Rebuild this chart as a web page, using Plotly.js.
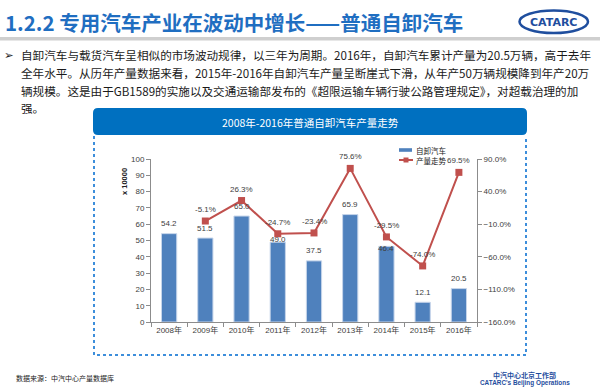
<!DOCTYPE html>
<html>
<head>
<meta charset="utf-8">
<script src="https://cdn.plot.ly/plotly-3.0.1.min.js"></script>
<style>
html,body{margin:0;padding:0;background:#ffffff;}
#chart{width:600px;height:389px;}
</style>
</head>
<body>
<div id="chart"></div>
<script>
// ---- data ----
var years = ['2008年','2009年','2010年','2011年','2012年','2013年','2014年','2015年','2016年'];
var production = [54.2, 51.5, 65.0, 49.0, 37.5, 65.9, 46.4, 12.1, 20.5];
var growthYears = ['2009年','2010年','2011年','2012年','2013年','2014年','2015年','2016年'];
var growth = [-5.1, 26.3, -24.7, -23.4, 75.6, -29.5, -74.0, 69.5];
var seriesNames = ['自卸汽车', '产量走势'];
var pageTitle = '1.2.2 专用汽车产业在波动中增长——普通自卸汽车';
var bodyLines = [
  '自卸汽车与载货汽车呈相似的市场波动规律，以三年为周期。2016年，自卸汽车累计产量为20.5万辆，高于去年',
  '全年水平。从历年产量数据来看，2015年-2016年自卸汽车产量呈断崖式下滑，从年产50万辆规模降到年产20万',
  '辆规模。这是由于GB1589的实施以及交通运输部发布的《超限运输车辆行驶公路管理规定》，对超载治理的加',
  '强。'
];
var chartTitle = '2008年-2016年普通自卸汽车产量走势';
var yTitle = 'x 10000';
var sourceText = '数据来源：中汽中心产量数据库';
var footer1 = '中汽中心北京工作部';
var footer2 = "CATARC's Beijing Operations";

// ---- style / geometry ----
var W = 600, H = 389;
var L = 151, R = 477, T = 159, B = 322;
function px(x){ return (x - L) / (R - L); }
function py(y){ return (B - y) / (B - T); }
var barLabelShift = [10, 10, 10, 3, 10, 10, -2, 10, 10];
var fontLatin = 'Liberation Sans, Arial, Noto Sans CJK SC, sans-serif';
var fontCJK = 'Noto Sans CJK SC, Liberation Sans, sans-serif';
var txtGray = '#404040';
var barColor = '#4F81BD';
var lineColor = '#C0504D';

function roundRectPath(x0, y0, x1, y1, r){
  var rx = r / (R - L), ry = r / (B - T);
  var X0 = px(x0), X1 = px(x1), Y0 = py(y0), Y1 = py(y1);
  return 'M ' + (X0 + rx) + ' ' + Y0 +
    ' L ' + (X1 - rx) + ' ' + Y0 +
    ' Q ' + X1 + ' ' + Y0 + ' ' + X1 + ' ' + (Y0 - ry) +
    ' L ' + X1 + ' ' + (Y1 + ry) +
    ' Q ' + X1 + ' ' + Y1 + ' ' + (X1 - rx) + ' ' + Y1 +
    ' L ' + (X0 + rx) + ' ' + Y1 +
    ' Q ' + X0 + ' ' + Y1 + ' ' + X0 + ' ' + (Y1 + ry) +
    ' L ' + X0 + ' ' + (Y0 - ry) +
    ' Q ' + X0 + ' ' + Y0 + ' ' + (X0 + rx) + ' ' + Y0 + ' Z';
}

var traces = [
  {
    type: 'bar', x: years, y: production, name: seriesNames[0],
    marker: {color: barColor, line: {color: '#c6d5ea', width: 1}},
    width: 0.42, hoverinfo: 'skip', showlegend: false
  },
  {
    type: 'scatter', mode: 'lines+markers', x: growthYears, y: growth, yaxis: 'y2',
    name: seriesNames[1], line: {color: lineColor, width: 2},
    marker: {symbol: 'square', size: 7, color: lineColor},
    hoverinfo: 'skip', showlegend: false
  }
];

var annotations = [];
var shapes = [];

// page header
annotations.push({xref:'paper', yref:'paper', x: px(3), y: py(22), xanchor:'left', yanchor:'middle',
  text: '<b>' + pageTitle + '</b>', showarrow:false,
  font:{family: fontCJK, size: 20.5, color:'#1F6EC1'}});
shapes.push({type:'rect', xref:'paper', yref:'paper', x0:px(0), x1:px(600), y0:py(40.5), y1:py(37),
  fillcolor:'#cfcfcf', line:{width:0}, layer:'below'});
// logo
shapes.push({type:'circle', xref:'paper', yref:'paper', x0:px(519.5), x1:px(588), y0:py(33), y1:py(10.5),
  line:{color:'#1F4E9E', width:2.5}, fillcolor:'rgba(0,0,0,0)'});
annotations.push({xref:'paper', yref:'paper', x: px(553.5), y: py(22), xanchor:'center', yanchor:'middle',
  text:'<b>CATARC</b>', showarrow:false, font:{family:'DejaVu Sans, sans-serif', size:11, color:'#1F4E9E'}});

// bullet & body text
annotations.push({xref:'paper', yref:'paper', x: px(2), y: py(55.5), xanchor:'left', yanchor:'middle',
  text:'➢', showarrow:false, font:{family:'DejaVu Sans, sans-serif', size:11.5, color:'#222'}});
var bodyY = [55.5, 73.3, 90.8, 108.3];
for (var i = 0; i < bodyLines.length; i++) {
  annotations.push({xref:'paper', yref:'paper', x: px(19), y: py(bodyY[i]), xanchor:'left', yanchor:'middle',
    text: bodyLines[i], showarrow:false, font:{family: fontCJK, size: 11.6, color:'#1a1a1a'}});
}

// banner
shapes.push({type:'path', xref:'paper', yref:'paper', path: roundRectPath(93, 108, 527, 135, 5),
  fillcolor:'#0070C0', line:{width:0}});
annotations.push({xref:'paper', yref:'paper', x: px(310), y: py(122.5), xanchor:'center', yanchor:'middle',
  text: chartTitle, showarrow:false, font:{family: fontCJK, size: 10.5, color:'#ffffff'}});
// dotted frame
shapes.push({type:'path', xref:'paper', yref:'paper',
  path: 'M ' + px(94) + ' ' + py(136) + ' L ' + px(94) + ' ' + py(355) + ' L ' + px(526) + ' ' + py(355) + ' L ' + px(526) + ' ' + py(136),
  line:{color:'#3D8EDB', width:2, dash:'dot'}});

// y title
annotations.push({xref:'paper', yref:'paper', x: px(124), y: py(182), xanchor:'center', yanchor:'middle',
  text:'<b>' + yTitle + '</b>', textangle:-90, showarrow:false,
  font:{family: fontLatin, size: 7.5, color:'#222'}});

// bar labels
for (var j = 0; j < years.length; j++) {
  annotations.push({xref:'x', yref:'y', x: years[j], y: production[j], yanchor:'middle', xanchor:'center',
    yshift: barLabelShift[j], text: production[j].toFixed(1), showarrow:false,
    font:{family: fontLatin, size: 8, color: txtGray}});
}
// line labels
for (var k = 0; k < growthYears.length; k++) {
  annotations.push({xref:'x', yref:'y2', x: growthYears[k], y: growth[k], yanchor:'middle', xanchor:'center',
    yshift: 11.5, text: growth[k].toFixed(1) + '%', showarrow:false,
    font:{family: fontLatin, size: 8, color: txtGray}});
}

// manual legend
shapes.push({type:'rect', xref:'paper', yref:'paper', x0:px(399), x1:px(412), y0:py(151.8), y1:py(148.2),
  fillcolor: barColor, line:{width:0}});
shapes.push({type:'line', xref:'paper', yref:'paper', x0:px(399), x1:px(413), y0:py(160), y1:py(160),
  line:{color: lineColor, width:2}});
shapes.push({type:'rect', xref:'paper', yref:'paper', x0:px(403.5), x1:px(408.5), y0:py(162.5), y1:py(157.5),
  fillcolor: lineColor, line:{width:0}});
annotations.push({xref:'paper', yref:'paper', x: px(414), y: py(150), xanchor:'left', yanchor:'middle',
  text: seriesNames[0], showarrow:false, font:{family: fontCJK, size: 7.5, color:'#222'}});
annotations.push({xref:'paper', yref:'paper', x: px(414), y: py(160), xanchor:'left', yanchor:'middle',
  text: seriesNames[1], showarrow:false, font:{family: fontCJK, size: 7.5, color:'#222'}});

// footer
annotations.push({xref:'paper', yref:'paper', x: px(14), y: py(377.5), xanchor:'left', yanchor:'middle',
  text: sourceText, showarrow:false, font:{family: fontCJK, size: 7, color:'#222'}});
annotations.push({xref:'paper', yref:'paper', x: px(524.5), y: py(374.5), xanchor:'center', yanchor:'middle',
  text: '<b>' + footer1 + '</b>', showarrow:false, font:{family: fontCJK, size: 7, color:'#1F4E9E'}});
annotations.push({xref:'paper', yref:'paper', x: px(524.5), y: py(383.3), xanchor:'center', yanchor:'middle',
  text: '<b>' + footer2 + '</b>', showarrow:false, font:{family: fontLatin, size: 6.4, color:'#1F4E9E'}});

var axisColor = '#8c8c8c';
var layout = {
  width: W, height: H,
  margin: {l: L, r: W - R, t: T, b: H - B, pad: 0},
  paper_bgcolor: '#ffffff', plot_bgcolor: 'rgba(0,0,0,0)',
  showlegend: false,
  font: {family: fontLatin, size: 8, color: txtGray},
  xaxis: {
    type:'category', range:[-0.5, 8.5], showgrid:false, zeroline:false,
    showline:true, linecolor: axisColor, linewidth:1,
    ticks:'outside', ticklen:4, tickcolor: axisColor, tickson:'boundaries',
    tickfont:{family: fontLatin, size: 8, color: txtGray}, fixedrange:true
  },
  yaxis: {
    range:[0, 100], dtick:10, showgrid:false, zeroline:false,
    showline:true, linecolor: axisColor, linewidth:1,
    ticks:'outside', ticklen:4, tickcolor: axisColor,
    tickfont:{family: fontLatin, size: 8, color: txtGray}, fixedrange:true
  },
  yaxis2: {
    overlaying:'y', side:'right', range:[-160, 90], dtick:50, tick0: -160,
    showgrid:false, zeroline:false, showline:true, linecolor: axisColor, linewidth:1,
    ticks:'outside', ticklen:4, tickcolor: axisColor,
    tickformat:'.1f', ticksuffix:'%',
    tickfont:{family: fontLatin, size: 8, color: txtGray}, fixedrange:true
  },
  shapes: shapes,
  annotations: annotations
};

Plotly.newPlot('chart', traces, layout, {displayModeBar:false, staticPlot:true});
</script>
</body>
</html>
